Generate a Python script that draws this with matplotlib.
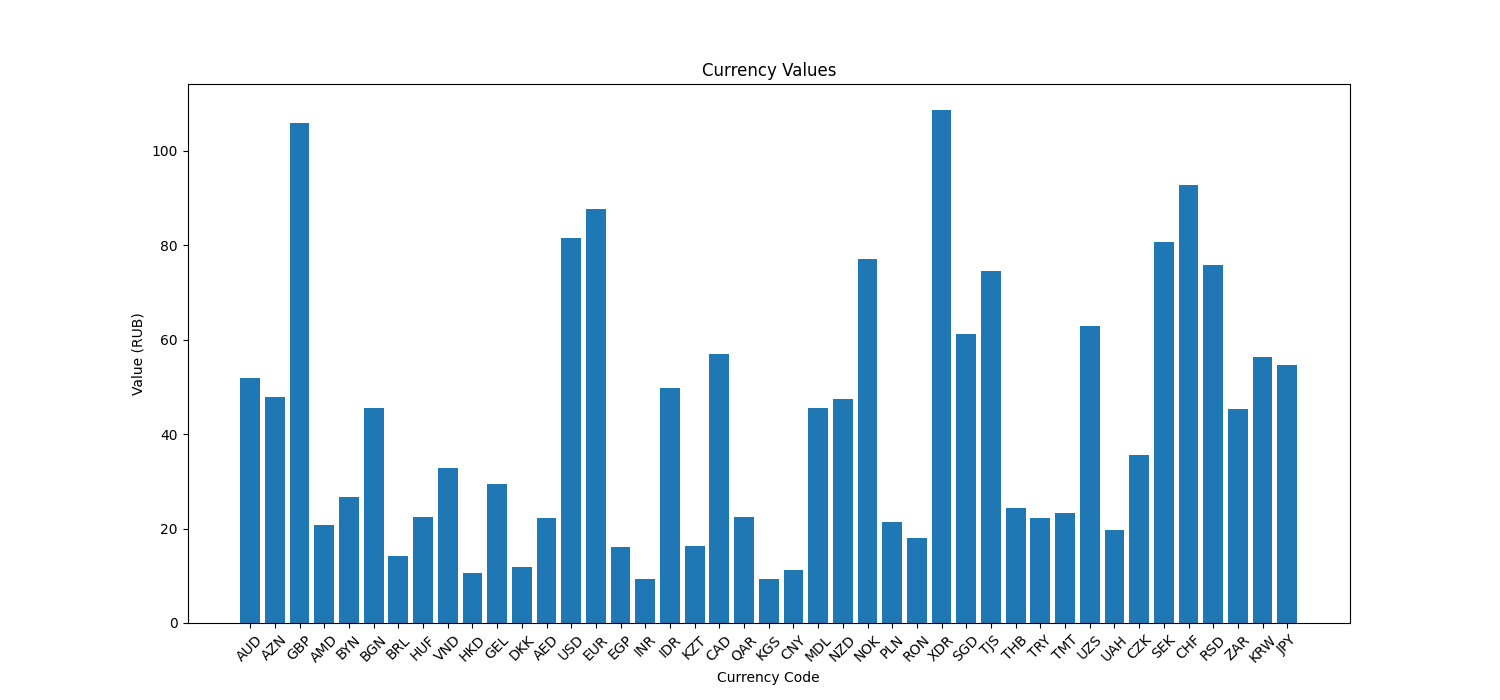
import matplotlib
matplotlib.use("Agg")
import matplotlib.pyplot as plt

codes = ["AUD", "AZN", "GBP", "AMD", "BYN", "BGN", "BRL", "HUF", "VND", "HKD",
         "GEL", "DKK", "AED", "USD", "EUR", "EGP", "INR", "IDR", "KZT", "CAD",
         "QAR", "KGS", "CNY", "MDL", "NZD", "NOK", "PLN", "RON", "XDR", "SGD",
         "TJS", "THB", "TRY", "TMT", "UZS", "UAH", "CZK", "SEK", "CHF", "RSD",
         "ZAR", "KRW", "JPY"]
values = [51.9, 47.9, 105.9, 20.8, 26.7, 45.6, 14.2, 22.5, 32.8, 10.6,
          29.4, 11.9, 22.2, 81.6, 87.7, 16.1, 9.3, 49.8, 16.3, 57.0,
          22.5, 9.3, 11.2, 45.6, 47.5, 77.1, 21.4, 18.0, 108.7, 61.2,
          74.6, 24.4, 22.2, 23.3, 62.9, 19.7, 35.6, 80.7, 92.8, 75.8,
          45.3, 56.4, 54.7]

fig, ax = plt.subplots(figsize=(15, 7), dpi=100)
ax.bar(codes, values)
ax.set_title("Currency Values")
ax.set_xlabel("Currency Code")
ax.set_ylabel("Value (RUB)")
plt.xticks(rotation=45)
plt.savefig("out.png")
